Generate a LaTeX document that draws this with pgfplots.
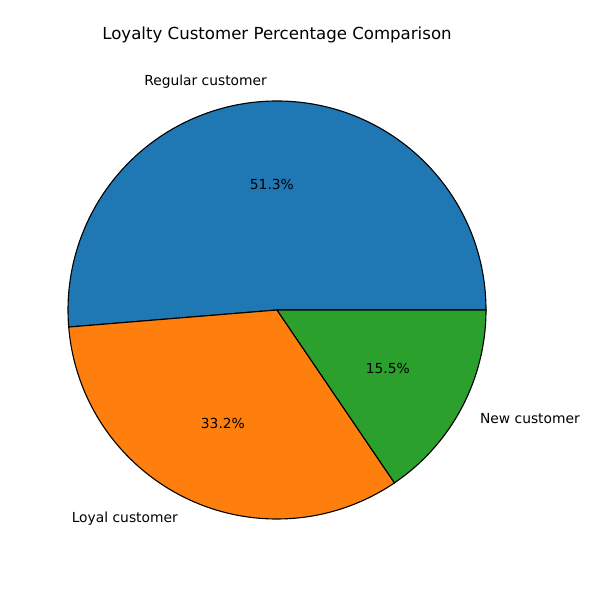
\documentclass[border=0pt]{standalone}
\usepackage{fontspec}
\setmainfont{DejaVu Sans}
\usepackage{pgfplots}
\pgfplotsset{compat=1.18}
\definecolor{mplblue}{HTML}{1F77B4}
\definecolor{mplorange}{HTML}{FF7F0E}
\definecolor{mplgreen}{HTML}{2CA02C}

% shares in percent
\def\vA{51.3}\def\vB{33.2}\def\vC{15.5}
% pie centre and radius in pixel units of the axis
\def\cx{277}\def\cy{290}\def\rr{209}

\pgfmathsetmacro{\aA}{0}
\pgfmathsetmacro{\aB}{\aA+\vA*3.6}
\pgfmathsetmacro{\aC}{\aB+\vB*3.6}
\pgfmathsetmacro{\aD}{360}
\pgfmathsetmacro{\mA}{(\aA+\aB)/2}
\pgfmathsetmacro{\mB}{(\aB+\aC)/2}
\pgfmathsetmacro{\mC}{(\aC+\aD)/2}

\begin{document}
\begin{tikzpicture}
\begin{axis}[
  width=6in, height=6in, scale only axis,
  xmin=0, xmax=600, ymin=0, ymax=600,
  hide axis, clip=false,
  every node/.style={font=\fontsize{10}{12}\selectfont, inner sep=0pt},
]
% keep the whole 600x600 canvas
\path (axis cs:0,0) rectangle (axis cs:600,600);

\filldraw[fill=mplblue, draw=black, line width=0.8pt]
  (axis cs:\cx,\cy) -- ++(\aA:2.09in) arc[start angle=\aA, end angle=\aB, radius=2.09in] -- cycle;
\filldraw[fill=mplorange, draw=black, line width=0.8pt]
  (axis cs:\cx,\cy) -- ++(\aB:2.09in) arc[start angle=\aB, end angle=\aC, radius=2.09in] -- cycle;
\filldraw[fill=mplgreen, draw=black, line width=0.8pt]
  (axis cs:\cx,\cy) -- ++(\aC:2.09in) arc[start angle=\aC, end angle=\aD, radius=2.09in] -- cycle;

% outer labels at 1.1 r
\node[anchor=east, xshift=3pt, yshift=-0.7pt] at (axis cs:{\cx+1.1*\rr*cos(\mA)},{\cy+1.1*\rr*sin(\mA)}) {Regular customer};
\node[anchor=east, xshift=3.5pt, yshift=-0.7pt] at (axis cs:{\cx+1.1*\rr*cos(\mB)},{\cy+1.1*\rr*sin(\mB)}) {Loyal customer};
\node[anchor=west, xshift=-3.6pt, yshift=-0.7pt] at (axis cs:{\cx+1.1*\rr*cos(\mC)},{\cy+1.1*\rr*sin(\mC)}) {New customer};

% percentages at 0.6 r
\node at (axis cs:{\cx+0.6*\rr*cos(\mA)},{\cy+0.6*\rr*sin(\mA)}) {51.3\%};
\node at (axis cs:{\cx+0.6*\rr*cos(\mB)},{\cy+0.6*\rr*sin(\mB)}) {33.2\%};
\node at (axis cs:{\cx+0.6*\rr*cos(\mC)},{\cy+0.6*\rr*sin(\mC)}) {15.5\%};

\node[font=\fontsize{12}{14}\selectfont] at (axis cs:277,565) {Loyalty Customer Percentage Comparison};
\end{axis}
\end{tikzpicture}
\end{document}
